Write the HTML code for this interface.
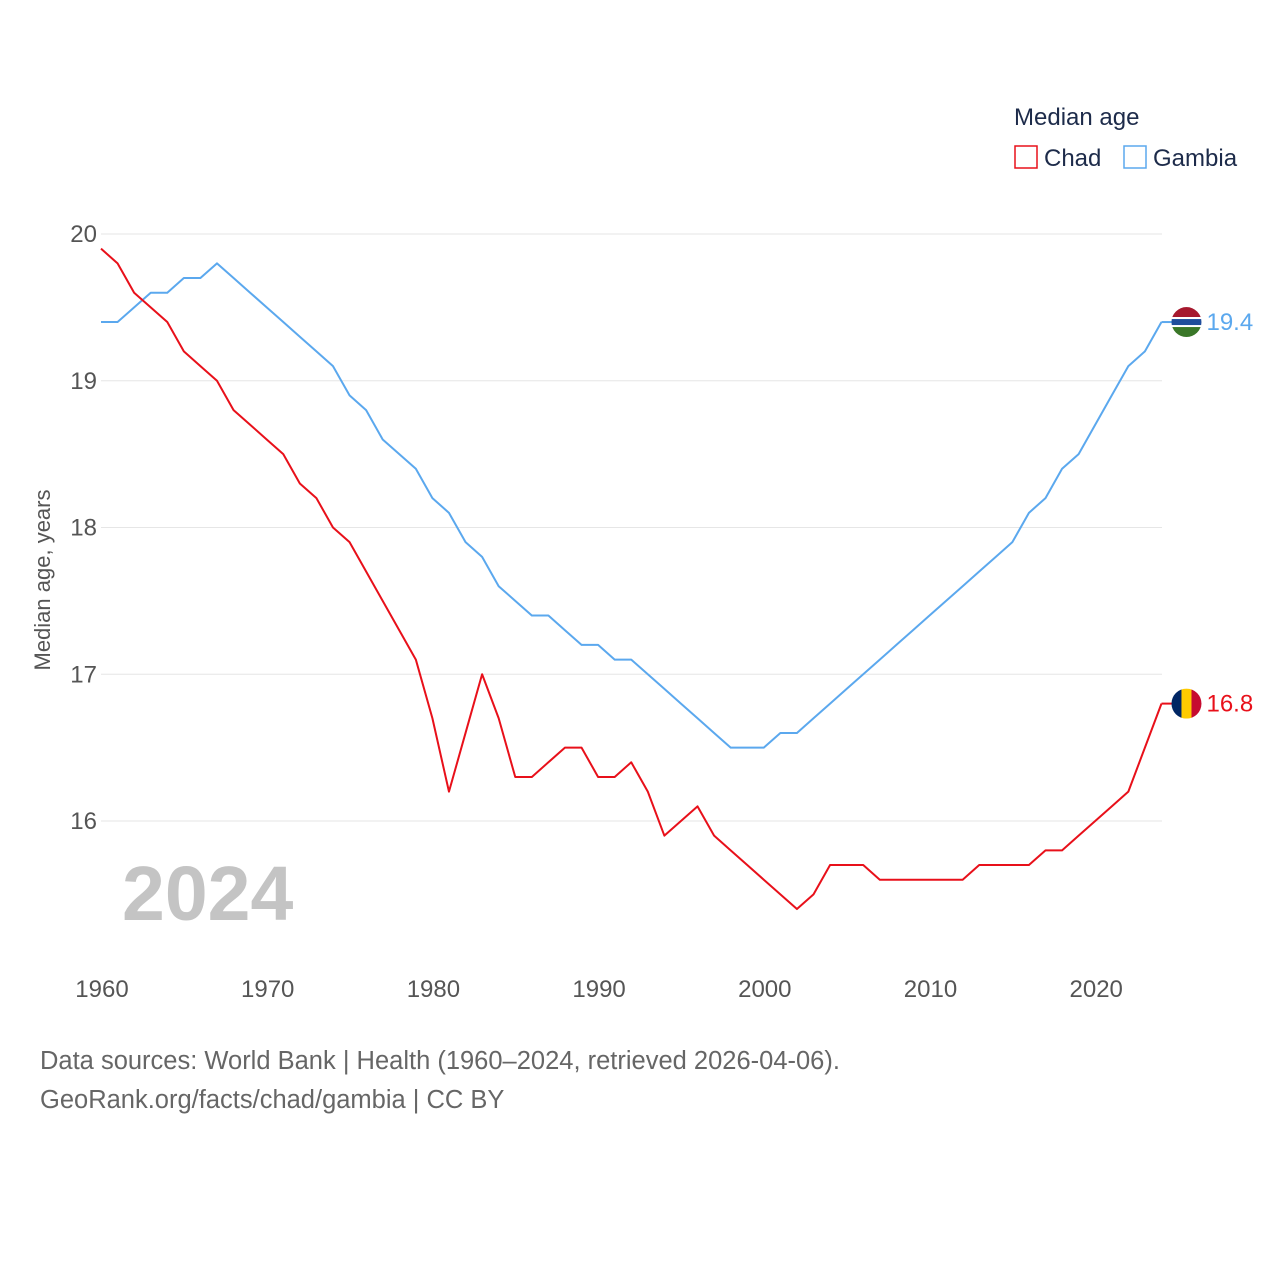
<!DOCTYPE html>
<html><head><meta charset="utf-8"><style>
body{margin:0;background:#fff;font-family:"Liberation Sans",sans-serif}
svg text{font-family:"Liberation Sans",sans-serif}
</style></head><body>
<svg id="c" width="1280" height="1280" xmlns="http://www.w3.org/2000/svg">
<text x="1014" y="125" font-size="24" fill="#1d2b4a">Median age</text>
<g><rect x="1015" y="146" width="22" height="22" fill="none" stroke="#e8101a" stroke-width="1.5"/><text x="1044" y="166" font-size="24" fill="#1d2b4a">Chad</text></g>
<g><rect x="1124" y="146" width="22" height="22" fill="none" stroke="#5ba8ee" stroke-width="1.5"/><text x="1153" y="166" font-size="24" fill="#1d2b4a">Gambia</text></g>
<text transform="translate(50,580) rotate(-90)" text-anchor="middle" font-size="22" fill="#555">Median age, years</text>
<text x="122" y="920" font-size="77" font-weight="bold" fill="#c4c4c4">2024</text>
<g id="grid"></g><g id="series"></g>
<text x="40" y="1069" font-size="25.5" fill="#666">Data sources: World Bank | Health (1960–2024, retrieved 2026-04-06).</text>
<text x="40" y="1108" font-size="25.5" fill="#666">GeoRank.org/facts/chad/gambia | CC BY</text>
</svg>
<script>
const years=[];for(let y=1960;y<=2024;y++)years.push(y);
const chad=[19.9,19.8,19.6,19.5,19.4,19.2,19.1,19.0,18.8,18.7,18.6,18.5,18.3,18.2,18.0,17.9,17.7,17.5,17.3,17.1,16.7,16.2,16.6,17.0,16.7,16.3,16.3,16.4,16.5,16.5,16.3,16.3,16.4,16.2,15.9,16.0,16.1,15.9,15.8,15.7,15.6,15.5,15.4,15.5,15.7,15.7,15.7,15.6,15.6,15.6,15.6,15.6,15.6,15.7,15.7,15.7,15.7,15.8,15.8,15.9,16.0,16.1,16.2,16.5,16.8];
const gambia=[19.4,19.4,19.5,19.6,19.6,19.7,19.7,19.8,19.7,19.6,19.5,19.4,19.3,19.2,19.1,18.9,18.8,18.6,18.5,18.4,18.2,18.1,17.9,17.8,17.6,17.5,17.4,17.4,17.3,17.2,17.2,17.1,17.1,17.0,16.9,16.8,16.7,16.6,16.5,16.5,16.5,16.6,16.6,16.7,16.8,16.9,17.0,17.1,17.2,17.3,17.4,17.5,17.6,17.7,17.8,17.9,18.1,18.2,18.4,18.5,18.7,18.9,19.1,19.2,19.4];
const yTicks=[16,17,18,19,20];
const xTicks=[1960,1970,1980,1990,2000,2010,2020];
const NS="http://www.w3.org/2000/svg";
const X=v=>101+(v-1960)*16.57, Y=v=>234+(20-v)*146.75;
function mk(t,a,p){const e=document.createElementNS(NS,t);for(const k in a)e.setAttribute(k,a[k]);p.appendChild(e);return e;}
const g=document.getElementById('grid'),s=document.getElementById('series');
yTicks.forEach(v=>{
 const l=mk('line',{x1:101,x2:1162,y1:Y(v),y2:Y(v),stroke:'#e6e6e6','stroke-width':1},g);
 
 
 const t=mk('text',{x:97,y:Y(v)+8,'text-anchor':'end','font-size':24,fill:'#555'},g);t.textContent=v;
 
 
});
xTicks.forEach(v=>{
 const t=mk('text',{x:X(v)+1,y:997,'text-anchor':'middle','font-size':24,fill:'#555'},g);t.textContent=v;
 
 
});
function line(d,c,n){
 const p=mk('polyline',{points:d.map((v,i)=>X(years[i])+','+Y(v)).join(' '),fill:'none',stroke:c,'stroke-width':2,'stroke-linejoin':'round'},s);
 
 
 const last=d[d.length-1],lx=X(years[years.length-1]),ly=Y(last);
 mk('line',{x1:lx,x2:lx+12,y1:ly,y2:ly,stroke:c,'stroke-width':2},s);
 const t=mk('text',{x:lx+45,y:ly+8,'font-size':24,fill:c},s);t.textContent=last.toFixed(1);
 
 
 return [lx+25,ly];
}
const [gx,gy]=line(gambia,'#5ba8ee','gambia');
const [cx,cy]=line(chad,'#e8101a','chad');
const gf=mk('g',{},s);


const gcp=mk('clipPath',{id:'gc'},gf);mk('circle',{cx:gx,cy:gy,r:15},gcp);
const gg=mk('g',{'clip-path':'url(#gc)'},gf);
mk('rect',{x:gx-15,y:gy-15,width:30,height:10,fill:'#a6192e'},gg);
mk('rect',{x:gx-15,y:gy-5,width:30,height:10,fill:'#fff'},gg);
mk('rect',{x:gx-15,y:gy-3,width:30,height:6,fill:'#1f4d9c'},gg);
mk('rect',{x:gx-15,y:gy+5,width:30,height:10,fill:'#3a7728'},gg);
const cf=mk('g',{},s);


const cp=mk('clipPath',{id:'cc'},cf);mk('circle',{cx:cx,cy:cy,r:15},cp);
const cg=mk('g',{'clip-path':'url(#cc)'},cf);
mk('rect',{x:cx-15,y:cy-15,width:10,height:30,fill:'#002664'},cg);
mk('rect',{x:cx-5,y:cy-15,width:10,height:30,fill:'#fecb00'},cg);
mk('rect',{x:cx+5,y:cy-15,width:10,height:30,fill:'#c60c30'},cg);
</script>
</body></html>
